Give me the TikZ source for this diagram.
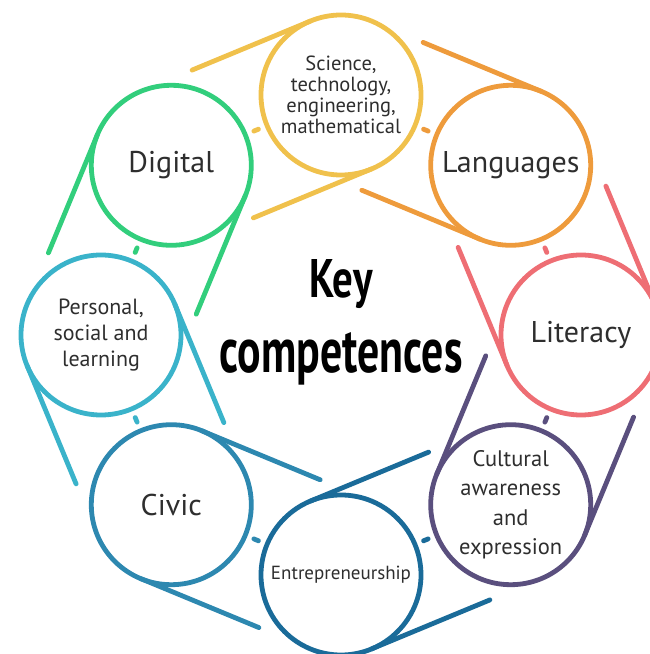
\documentclass[tikz,border=0pt]{standalone}
\usepackage{fontspec}
\usepackage{graphicx}
\setmainfont{PT Sans}
\usetikzlibrary{calc}
\definecolor{cSci}{HTML}{F0C14C}
\definecolor{cLan}{HTML}{EE9B3C}
\definecolor{cLit}{HTML}{EE6E74}
\definecolor{cCul}{HTML}{5A4F7E}
\definecolor{cEnt}{HTML}{1A6B99}
\definecolor{cCiv}{HTML}{2D88B0}
\definecolor{cPer}{HTML}{3AB3CA}
\definecolor{cDig}{HTML}{32CE7C}
\definecolor{labgray}{HTML}{2E2E2E}
\begin{document}
\begin{tikzpicture}[x=1pt,y=1pt,
  ringbox/.style={circle, draw=#1, line width=4.8pt, minimum size=160pt, inner sep=0pt, outer sep=0pt, text=labgray, align=center},
  tail/.style={draw=#1, line width=4.8pt, line cap=round},
  dashmark/.style={draw=#1, line width=4.8pt, line cap=round},
  bigl/.style={font=\fontsize{30}{34}\selectfont},
  title/.style={text=black, inner sep=0pt, anchor=base}]
\useasboundingbox (0,0) rectangle (650,654);
\coordinate (C) at (341,319);
% circles
\node[ringbox=cSci, font=\fontsize{20.5}{21}\selectfont] (sci) at ($(C)+(90:240)$) {Science,\\technology,\\engineering,\\mathematical};
\node[ringbox=cLan, bigl] (lan) at ($(C)+(45:240)$) {Languages};
\node[ringbox=cLit, bigl] (lit) at ($(C)+(0:240)$) {Literacy};
\node[ringbox=cCul, font=\fontsize{22.5}{29.5}\selectfont] (cul) at ($(C)+(-45:240)$) {Cultural\\awareness\\and\\expression};
\node[ringbox=cEnt, font=\fontsize{19}{22}\selectfont] (ent) at ($(C)+(-90:240)$) {Entrepreneurship};
\node[ringbox=cCiv, bigl] (civ) at ($(C)+(-135:240)$) {Civic};
\node[ringbox=cPer, font=\fontsize{22}{26}\selectfont] (per) at ($(C)+(180:240)$) {Personal,\\social and\\learning};
\node[ringbox=cDig, bigl] (dig) at ($(C)+(135:240)$) {Digital};
% tails and dashes
\foreach \nm/\nx/\a/\col in {sci/dig/90/cSci, lan/sci/45/cLan, lit/lan/0/cLit, cul/lit/-45/cCul, ent/cul/-90/cEnt, civ/ent/-135/cCiv, per/civ/180/cPer, dig/per/135/cDig}{
  \pgfmathsetmacro\t{\a+112.5}
  \pgfmathsetmacro\tp{\t+90}
  \pgfmathsetmacro\tm{\t-90}
  \coordinate (\nm-tp) at ($(\nm.center)+(\tp:80)$);
  \coordinate (\nm-tm) at ($(\nm.center)+(\tm:80)$);
  \coordinate (\nm-ep) at ($(\nm-tp)+(\t:128)$);
  \coordinate (\nm-em) at ($(\nm-tm)+(\t:128)$);
  \draw[tail=\col] (\nm-tp) -- (\nm-ep);
  \draw[tail=\col] (\nm-tm) -- (\nm-em);
  \coordinate (\nm-mid) at ($(\nm.center)!0.5!(\nx.center)$);
  \coordinate (\nm-d1) at ($(\nm-mid)+(\t:-2.5)$);
  \coordinate (\nm-d2) at ($(\nm-mid)+(\t:2.5)$);
  \draw[dashmark=\col] (\nm-d1) -- (\nm-d2);
}
% title
\node[title] (key) at (341,356) {\resizebox{63pt}{38pt}{\bfseries Key}};
\node[title] (comp) at (341,282) {\resizebox{243pt}{40pt}{\bfseries competences}};
\end{tikzpicture}
\end{document}
